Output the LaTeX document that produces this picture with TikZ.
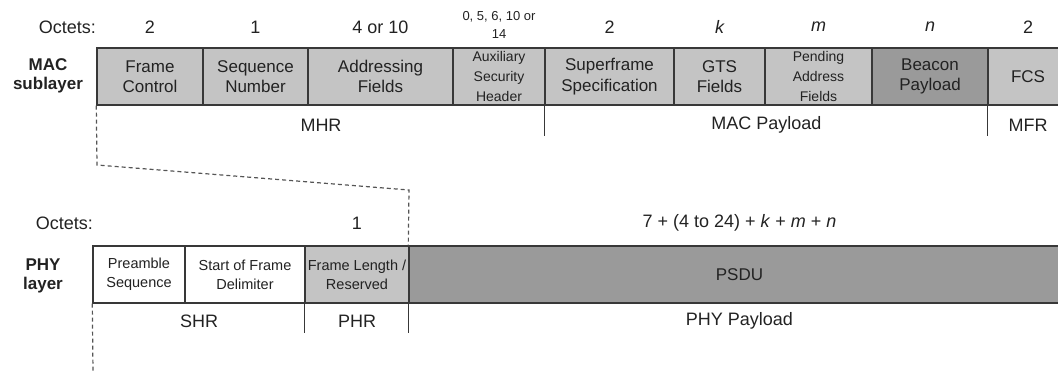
\documentclass[tikz,border=0pt]{standalone}
\usepackage{fontspec}
\setmainfont{Liberation Sans}
\definecolor{lightfill}{HTML}{C4C4C4}
\definecolor{darkfill}{HTML}{9A9A9A}
\definecolor{edge}{HTML}{383838}
\definecolor{ink}{HTML}{222222}
\definecolor{dashgray}{HTML}{555555}
\begin{document}
\begin{tikzpicture}[x=1pt,y=-1pt,
  every node/.style={text=ink},
  field/.style={draw=edge, line width=1.4pt, minimum height=57pt, inner sep=0pt,
    align=center, fill=lightfill, font=\fontsize{17}{20.5}\selectfont},
  small/.style={font=\fontsize{14}{20}\selectfont},
  phyf/.style={font=\fontsize{14.5}{19}\selectfont},
  lbl/.style={font=\fontsize{18}{21}\selectfont, inner sep=0pt},
  layer/.style={font=\fontsize{17}{19.5}\selectfont\bfseries, align=center, inner sep=0pt},
  sep/.style={draw=edge, line width=1.4pt},
  dashline/.style={draw=dashgray, line width=1.2pt, dash pattern=on 4pt off 3pt}
]
\useasboundingbox (0,0) rectangle (1058,370);
\clip (0,0) rectangle (1058,370);

% ---- MAC frame ----
\node[lbl, anchor=east] (moct) at (96,27) {Octets:};
\node[layer] (mac) at (48,76) {MAC\\sublayer};

\node[field, minimum width=106pt] (fc)  at (150,76.5)   {Frame\\Control};
\node[field, minimum width=105pt] (sn)  at (255.5,76.5) {Sequence\\Number};
\node[field, minimum width=145pt] (af)  at (380.5,76.5) {Addressing\\Fields};
\node[field, small, minimum width=92pt] (ash) at (499,76.5) {Auxiliary\\Security\\Header};
\node[field, minimum width=129pt] (ss)  at (609.5,76.5) {Superframe\\Specification};
\node[field, minimum width=91pt]  (gts) at (719.5,76.5) {GTS\\Fields};
\node[field, small, minimum width=107pt] (paf) at (818.5,76.5) {Pending\\Address\\Fields};
\node[field, fill=darkfill, minimum width=116pt] (bp) at (930,76.5) {Beacon\\Payload};
\node[field, minimum width=80pt]  (fcs) at (1028,76.5) {FCS};

\node[lbl] (o-fc)  at (150,27)   {2};
\node[lbl] (o-sn)  at (255.5,27) {1};
\node[lbl] (o-af)  at (380.5,27) {4 or 10};
\node[font=\fontsize{13}{17.5}\selectfont, align=center, inner sep=0pt] (o-ash) at (499,25) {0, 5, 6, 10 or\\14};
\node[lbl] (o-ss)  at (609.5,27) {2};
\node[lbl, font=\fontsize{18}{21}\selectfont\itshape] (o-gts) at (719.5,27) {k};
\node[lbl, font=\fontsize{18}{21}\selectfont\itshape] (o-paf) at (818.5,27) {m};
\node[lbl, font=\fontsize{18}{21}\selectfont\itshape] (o-bp)  at (930,27)   {n};
\node[lbl] (o-fcs) at (1028,27)  {2};

\draw[sep] (ss.south west) -- ++(0,30);
\draw[sep] (fcs.south west) -- ++(0,30);
\node[lbl] (mhr)  at (321,125)   {MHR};
\node[lbl] (macp) at (766.5,125) {MAC Payload};
\node[lbl] (mfr)  at (1028,125)  {MFR};

% ---- PHY frame ----
\node[lbl, anchor=east] (poct) at (93,223) {Octets:};
\node[layer] (phy) at (43,276) {PHY\\layer};

\node[field, phyf, fill=white, minimum width=92pt]  (ps)  at (139,274.5) {Preamble\\Sequence};
\node[field, phyf, fill=white, minimum width=120pt] (sfd) at (245,274.5) {Start of Frame\\Delimiter};
\node[field, phyf, minimum width=104pt] (fl) at (357,274.5) {Frame Length /\\Reserved};
\node[field, fill=darkfill, minimum width=661pt] (psdu) at (739.5,274.5) {PSDU};

\node[lbl] (o-fl)   at (357,223) {1};
\node[lbl] (o-psdu) at (739.5,223) {7 + (4 to 24) + \textit{k} + \textit{m} + \textit{n}};

\draw[sep] (fl.south west) -- ++(0,29);
\draw[sep] (psdu.south west) -- ++(0,29);
\node[lbl] (shr)  at (199,321)   {SHR};
\node[lbl] (phr)  at (357,321)   {PHR};
\node[lbl] (phyp) at (739.5,321) {PHY Payload};

% ---- MAC frame carried in the PSDU ----
\coordinate (bend1) at (97,165);
\coordinate (bend2) at (409,190);
\coordinate (tail)  at (93,372);
\draw[dashline] (fc.south west) -- (bend1) -- (bend2) -- (psdu.north west);
\draw[dashline] (ps.south west) -- (tail);
\end{tikzpicture}
\end{document}
